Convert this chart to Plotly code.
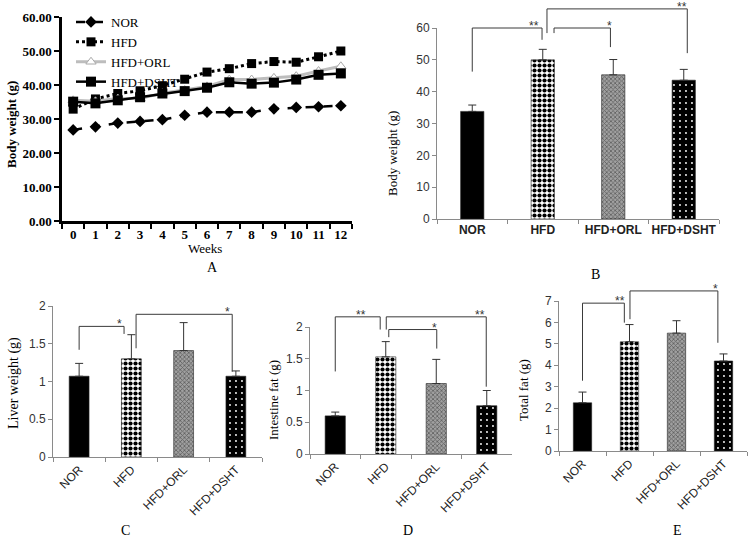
import plotly.graph_objects as go

W, H = 750, 540

# ---------------- data ----------------
weeks = [str(i) for i in range(13)]
nor_w = [26.8, 27.7, 28.8, 29.3, 29.8, 31.1, 32.0, 32.0, 32.0, 33.0, 33.4, 33.6, 33.9]
hfd_w = [32.9, 35.9, 37.5, 38.3, 39.8, 41.7, 43.8, 44.8, 46.3, 46.9, 46.7, 48.3, 50.0]
orl_w = [35.5, 35.2, 36.0, 36.0, 37.6, 38.5, 39.6, 41.6, 41.6, 42.1, 42.6, 44.1, 45.5]
dsht_w = [35.1, 34.6, 35.5, 36.4, 37.5, 38.2, 39.2, 40.8, 40.4, 40.7, 41.6, 43.0, 43.4]

groups = ["NOR", "HFD", "HFD+ORL", "HFD+DSHT"]
body_vals = [33.8, 50.0, 45.3, 43.6]
body_err = [2.0, 3.3, 4.8, 3.4]
liver_vals = [1.07, 1.30, 1.41, 1.07]
liver_err = [0.17, 0.32, 0.37, 0.07]
intest_vals = [0.60, 1.53, 1.11, 0.76]
intest_err = [0.06, 0.24, 0.38, 0.24]
total_vals = [2.25, 5.10, 5.50, 4.20]
total_err = [0.50, 0.80, 0.58, 0.33]

# significance brackets: (x_left, y_left_end, x_right, y_right_end, y_top, label, label_x)
body_sig = [(0, 46.3, 0.99, 56.3, 60.0, "**", 0.87),
            (1.06, 58.4, 3.05, 52.1, 66.0, "**", 2.98),
            (1.16, 58.4, 1.96, 54.0, 60.0, "*", 1.95)]
liver_sig = [(0, 1.42, 0.86, 1.63, 1.73, "*", 0.77),
             (1.09, 1.44, 2.93, 1.13, 1.89, "*", 2.84)]
intest_sig = [(0, 1.30, 0.89, 1.96, 2.16, "**", 0.5),
              (1.01, 1.96, 2.99, 1.06, 2.16, "**", 2.87),
              (1.06, 1.84, 2.01, 1.66, 1.96, "*", 1.96)]
total_sig = [(0, 3.28, 0.89, 5.99, 6.9, "**", 0.8),
             (1.01, 6.15, 2.88, 5.05, 7.47, "*", 2.84)]

SERIF = "Liberation Serif"
SANS = "Liberation Sans"

fig = go.Figure()

def px_x(p):
    return p / W

def px_y(p):
    return 1 - p / H

# ---------------- panel A ----------------
fig.add_trace(go.Scatter(x=weeks, y=nor_w, name="NOR", mode="lines+markers",
                         line=dict(color="black", width=2.5, dash="dash"),
                         marker=dict(symbol="diamond", size=9, color="black"),
                         xaxis="x", yaxis="y"))
fig.add_trace(go.Scatter(x=weeks, y=hfd_w, name="HFD", mode="lines+markers",
                         line=dict(color="black", width=3, dash="dot"),
                         marker=dict(symbol="square", size=9, color="black"),
                         xaxis="x", yaxis="y"))
fig.add_trace(go.Scatter(x=weeks, y=orl_w, name="HFD+ORL", mode="lines+markers",
                         line=dict(color="#bdbdbd", width=3),
                         marker=dict(symbol="triangle-up", size=9, color="white",
                                     line=dict(color="#a8a8a8", width=1)),
                         xaxis="x", yaxis="y"))
fig.add_trace(go.Scatter(x=weeks, y=dsht_w, name="HFD+DSHT", mode="lines+markers",
                         line=dict(color="black", width=2.5),
                         marker=dict(symbol="square", size=10, color="black"),
                         xaxis="x", yaxis="y"))

# ---------------- bar panels ----------------
bar_styles = [
    dict(color="black"),
    dict(color="white", pattern=dict(shape=".", fgcolor="black", bgcolor="white",
                                     fgopacity=1, size=5, solidity=0.55)),
    dict(color="#8c8c8c", pattern=dict(shape="x", fgcolor="#5f5f5f", bgcolor="#a0a0a0",
                                       fgopacity=1, size=3, solidity=0.45)),
    dict(color="black", pattern=dict(shape=".", fgcolor="white", bgcolor="black",
                                     fgopacity=1, size=6, solidity=0.08)),
]

def add_bars(vals, errs, xa, ya, width):
    for i, g in enumerate(groups):
        st = dict(bar_styles[i])
        st["line"] = dict(color="#222", width=0.6)
        fig.add_trace(go.Bar(x=[g], y=[vals[i]], width=width, marker=st,
                             error_y=dict(type="data", symmetric=False, array=[errs[i]],
                                          arrayminus=[0], color="#333", thickness=1, width=4),
                             showlegend=False, xaxis=xa, yaxis=ya))

add_bars(body_vals, body_err, "x2", "y2", 0.33)
add_bars(liver_vals, liver_err, "x3", "y3", 0.38)
add_bars(intest_vals, intest_err, "x4", "y4", 0.40)
add_bars(total_vals, total_err, "x5", "y5", 0.39)

# ---------------- axes ----------------
axA_font = dict(family=SERIF, size=13, color="black", weight="bold")
fig.update_layout(
    xaxis=dict(domain=[px_x(62), px_x(352)], anchor="y", type="category", range=[-0.5, 12.5],
               tickson="boundaries", showline=True, linecolor="black", linewidth=2.5,
               ticks="outside", ticklen=5, tickwidth=2, tickcolor="black", tickangle=0,
               tickfont=axA_font, showgrid=False, zeroline=False, automargin=False),
    yaxis=dict(domain=[px_y(221), px_y(17)], anchor="x", range=[0, 60], tickvals=[0, 10, 20, 30, 40, 50, 60],
               tickformat=".2f", showline=True, linecolor="black", linewidth=2.5,
               ticks="outside", ticklen=5, tickwidth=2, tickcolor="black",
               tickfont=axA_font, showgrid=False, zeroline=False, automargin=False),
)

def bar_axes(n, xdom, ydom, yrange, dtick, angle, xfont_size, xbold):
    xa = dict(domain=xdom, anchor="y%d" % n, type="category", range=[-0.5, 3.5],
              tickson="boundaries", showline=True, linecolor="#8a8a8a", linewidth=1,
              ticks="outside", ticklen=4, tickcolor="#8a8a8a", tickangle=angle,
              tickfont=dict(family=SANS, size=xfont_size, color="#222",
                            weight="bold" if xbold else "normal"),
              showgrid=False, zeroline=False, automargin=False)
    ya = dict(domain=ydom, anchor="x%d" % n, range=yrange, dtick=dtick,
              showline=True, linecolor="#8a8a8a", linewidth=1,
              ticks="outside", ticklen=4, tickcolor="#8a8a8a",
              tickfont=dict(family=SANS, size=12, color="#333"),
              showgrid=False, zeroline=False, automargin=False)
    fig.update_layout(**{"xaxis%d" % n: xa, "yaxis%d" % n: ya})

bar_axes(2, [px_x(437), px_x(719)], [px_y(219), px_y(28)], [0, 60], 10, 0, 12, True)
bar_axes(3, [px_x(53), px_x(262)], [px_y(457), px_y(306)], [0, 2], 0.5, -45, 12, False)
bar_axes(4, [px_x(310), px_x(512)], [px_y(454), px_y(327)], [0, 2], 0.5, -45, 12, False)
bar_axes(5, [px_x(559), px_x(747)], [px_y(451), px_y(301)], [0, 7], 1, -45, 12, False)

# ---------------- significance brackets ----------------
shapes = []
annotations = []

def add_sig(n, sig, ymax):
    xr = "x%d domain" % n
    yr = "y%d domain" % n
    for (x1, y1, x2, y2, yt, lab, lx) in sig:
        fx1 = (x1 + 0.5) / 4
        fx2 = (x2 + 0.5) / 4
        path = "M %f,%f L %f,%f L %f,%f L %f,%f" % (fx1, y1 / ymax, fx1, yt / ymax,
                                                 fx2, yt / ymax, fx2, y2 / ymax)
        shapes.append(dict(type="path", path=path, xref=xr, yref=yr,
                           line=dict(color="#3a3a3a", width=1)))
        annotations.append(dict(text=lab, x=(lx + 0.5) / 4, y=yt / ymax, xref=xr, yref=yr,
                                xanchor="center", yanchor="bottom", yshift=-7, showarrow=False,
                                font=dict(family=SANS, size=12, color="#333")))

add_sig(2, body_sig, 60)
add_sig(3, liver_sig, 2)
add_sig(4, intest_sig, 2)
add_sig(5, total_sig, 7)

def label(text, x, y, size=14, angle=0, weight="normal", family=SERIF):
    annotations.append(dict(text=text, x=px_x(x), y=px_y(y), xref="paper", yref="paper",
                            xanchor="center", yanchor="middle", showarrow=False, textangle=angle,
                            font=dict(family=family, size=size, color="black", weight=weight)))

label("Body weight (g)", 11, 125, 13, -90, "bold")
label("Weeks", 205, 248, 13)
label("A", 213, 267, 14)
label("Body weight (g)", 392, 153, 13, -90)
label("B", 595, 274, 14)
label("Liver weight (g)", 14, 383, 14, -90)
label("C", 125, 530, 14)
label("Intestine fat (g)", 273, 400, 13, -90)
label("D", 408, 530, 14)
label("Total fat (g)", 523, 390, 13, -90)
label("E", 677, 530, 14)

fig.update_layout(
    width=W, height=H, margin=dict(l=0, r=0, t=0, b=0, autoexpand=False),
    paper_bgcolor="white", plot_bgcolor="white",
    shapes=shapes, annotations=annotations, barmode="overlay",
    legend=dict(x=px_x(71), y=px_y(7), xanchor="left", yanchor="top",
                bgcolor="rgba(0,0,0,0)", font=dict(family=SERIF, size=13, color="black"),
                tracegroupgap=0, itemwidth=30),
)

fig.write_html("out.html", config={"displayModeBar": False},
               post_script="document.body.style.margin='0';document.body.style.overflow='hidden';")
